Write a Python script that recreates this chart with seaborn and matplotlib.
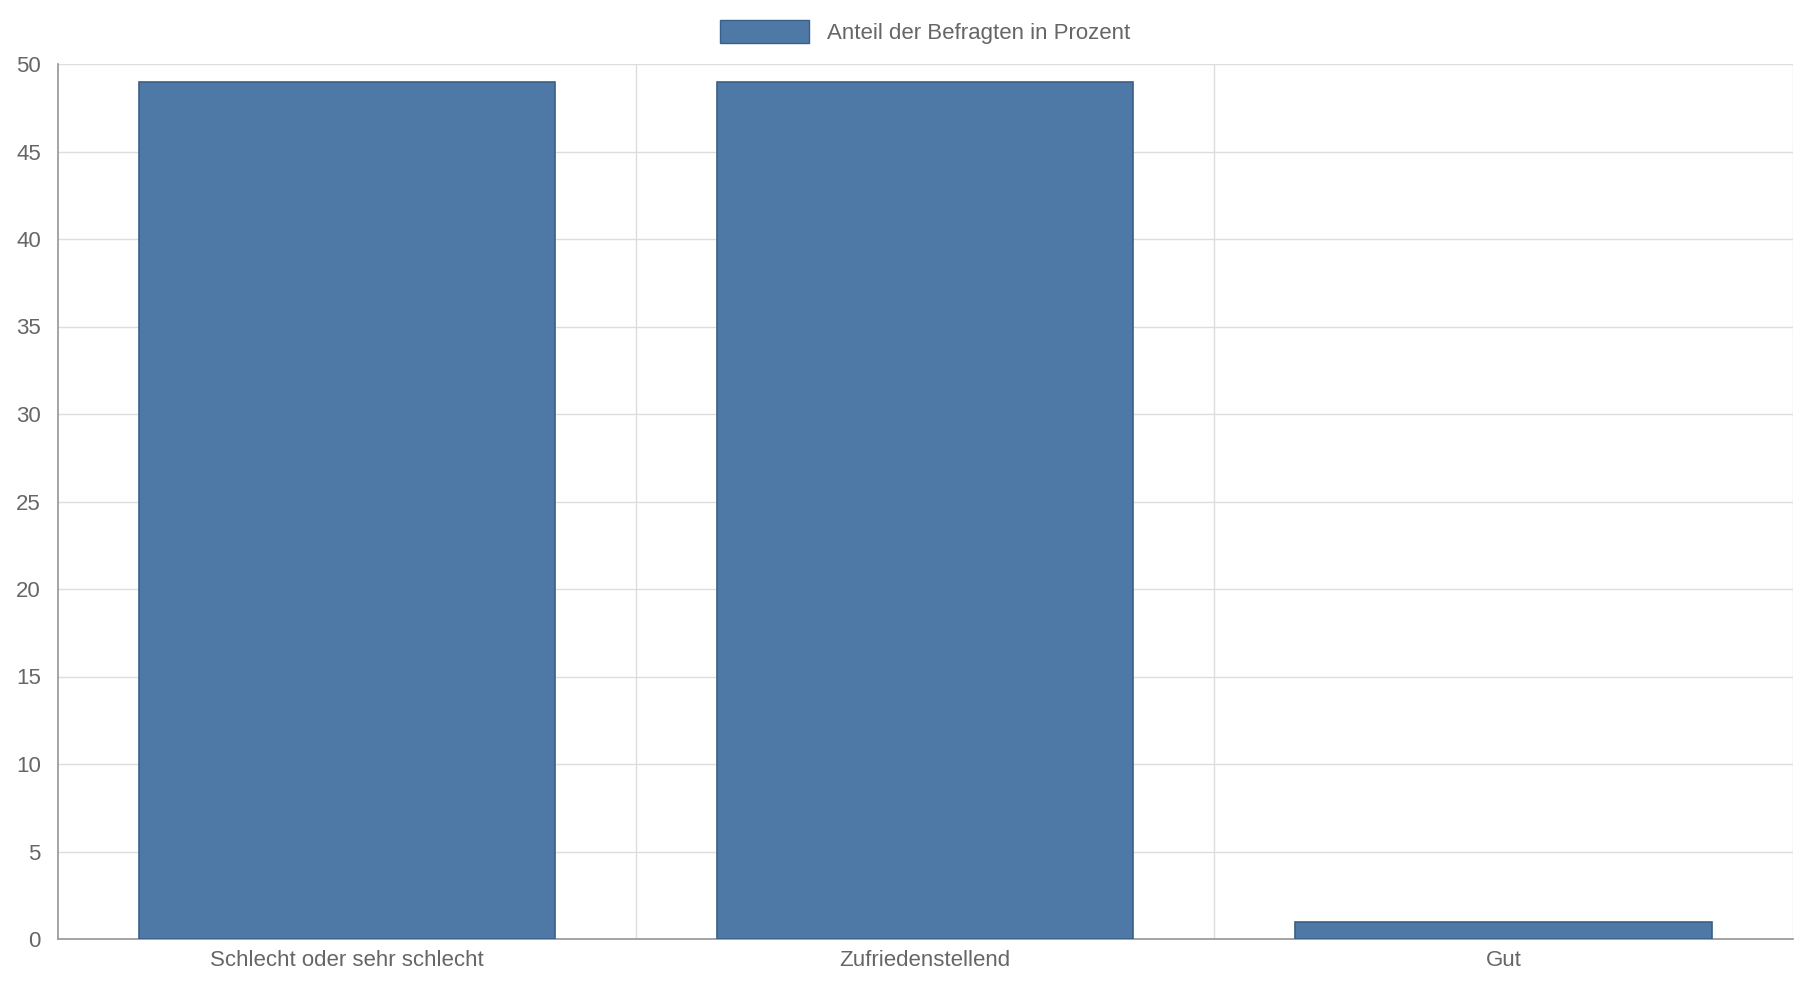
import matplotlib
matplotlib.use("Agg")
import matplotlib.pyplot as plt
import seaborn as sns
import pandas as pd
from matplotlib.patches import Patch

categories = ["Schlecht oder sehr schlecht", "Zufriedenstellend", "Gut"]
values = [49, 49, 1]
series_name = "Anteil der Befragten in Prozent"

sns.set_theme(style="white")
plt.rcParams['font.family'] = ['Liberation Sans', 'DejaVu Sans']

df = pd.DataFrame({"cat": categories, "val": values})
fig = plt.figure(figsize=(18, 10), dpi=100)
ax = fig.add_axes([0.032, 0.061, 0.964, 0.875])
sns.barplot(data=df, x="cat", y="val", color="#4E79A7", saturation=1, width=0.72,
            edgecolor="#3A5F88", linewidth=1.2, ax=ax, zorder=3)
ax.set_ylim(0, 50)
ax.set_xlim(-0.5, 2.5)
ax.set_yticks(range(0, 51, 5))
ax.set_xlabel(""); ax.set_ylabel("")
ax.grid(axis="y", color="#dddddd", linewidth=1, zorder=0)
for x in [0.5, 1.5, 2.5]:
    ax.axvline(x, color="#dddddd", linewidth=1, zorder=0)
for s in ["top", "right"]:
    ax.spines[s].set_visible(False)
for s in ["left", "bottom"]:
    ax.spines[s].set_color("#999999")
ax.tick_params(axis="both", colors="#666666", labelsize=16, length=0, pad=8)
ax.tick_params(axis="y", length=8, color="#999999", pad=4)
ax.set_xticks([0, 1, 2])
ax.set_xticks([-0.5, 0.5, 1.5, 2.5], minor=True)
ax.tick_params(axis="x", which="minor", length=18, color="#dddddd")
ax.legend(handles=[Patch(facecolor="#4E79A7", edgecolor="#3A5F88", label=series_name)],
          loc="lower center", bbox_to_anchor=(0.5, 1.0), frameon=False, fontsize=16,
          labelcolor="#666666", handlelength=4, handleheight=1.2)
fig.savefig("out.png")
